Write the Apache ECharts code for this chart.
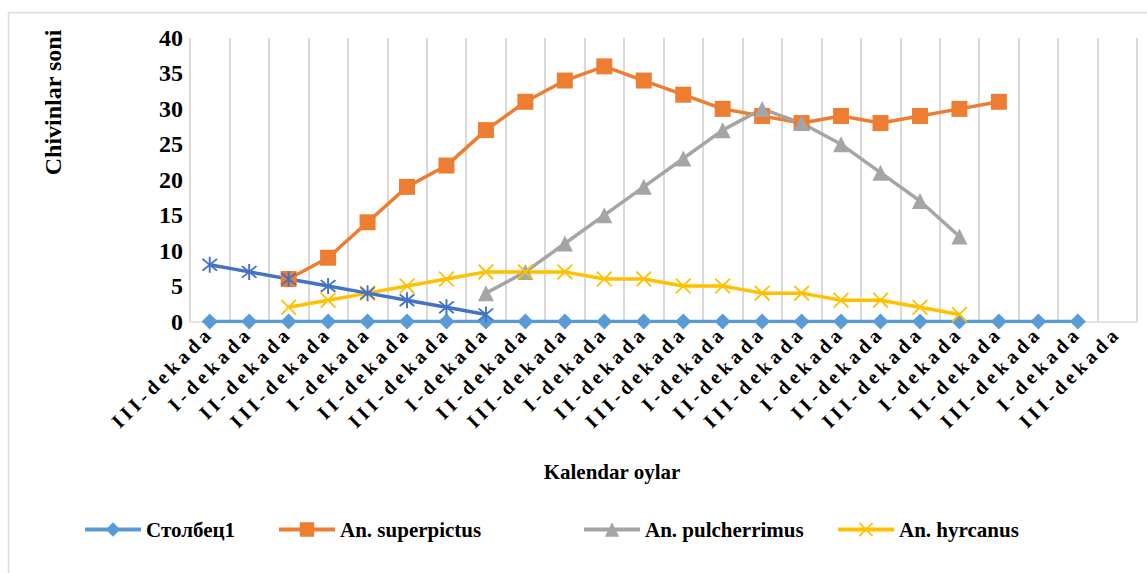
<!DOCTYPE html>
<html>
<head>
<meta charset="utf-8">
<script src="https://cdn.jsdelivr.net/npm/echarts@6/dist/echarts.min.js"></script>
<style>
html,body{margin:0;padding:0;background:#fff;}
#chart{width:1147px;height:573px;}
</style>
</head>
<body>
<div id="chart"></div>
<script>
var categories = ['III-dekada','I-dekada','II-dekada','III-dekada','I-dekada','II-dekada','III-dekada','I-dekada','II-dekada','III-dekada','I-dekada','II-dekada','III-dekada','I-dekada','II-dekada','III-dekada','I-dekada','II-dekada','III-dekada','I-dekada','II-dekada','III-dekada','I-dekada','III-dekada'];
var stolbets1 = [0,0,0,0,0,0,0,0,0,0,0,0,0,0,0,0,0,0,0,0,0,0,0,null];
var superpictus = [null,null,6,9,14,19,22,27,31,34,36,34,32,30,29,28,29,28,29,30,31,null,null,null];
var pulcherrimus = [null,null,null,null,null,null,null,4,7,11,15,19,23,27,30,28,25,21,17,12,null,null,null,null];
var hyrcanus = [null,null,2,3,4,5,6,7,7,7,6,6,5,5,4,4,3,3,2,1,null,null,null,null];
var unnamedSeries = [8,7,6,5,4,3,2,1,null,null,null,null,null,null,null,null,null,null,null,null,null,null,null,null];
var yTicks = {min:0, max:40, interval:5};

var FONT = 'Liberation Serif';
var X_PATH = 'path://M0.8,0 L5,4.2 L9.2,0 L10,0.8 L5.8,5 L10,9.2 L9.2,10 L5,5.8 L0.8,10 L0,9.2 L4.2,5 L0,0.8 Z';
var STAR_PATH = 'path://M0.9,0 L5,4.1 L9.1,0 L10,0.9 L5.9,5 L10,9.1 L9.1,10 L5,5.9 L0.9,10 L0,9.1 L4.1,5 L0,0.9 Z M4.4,-1.2 L5.6,-1.2 L5.6,11.2 L4.4,11.2 Z';

var chart = echarts.init(document.getElementById('chart'), null, {renderer:'svg'});

function lineSeries(name, data, color, symbol, size) {
  return {
    name: name, type: 'line', data: data,
    symbol: symbol, symbolSize: size,
    showAllSymbol: true,
    connectNulls: false,
    lineStyle: {color: color, width: 3.5},
    itemStyle: {color: color},
    emphasis: {disabled: true},
    animation: false
  };
}

function legendAt(left, name) {
  return {
    left: left, top: 514,
    data: [name],
    itemWidth: 56, itemHeight: 18,
    lineStyle: {width: 4},
    textStyle: {fontFamily: FONT, fontWeight: 'bold', fontSize: 21, color: '#000'},
    selectedMode: false
  };
}

chart.setOption({
  backgroundColor: '#fff',
  animation: false,
  grid: {left: 190, right: 10, top: 38, bottom: 251.5, containLabel: false},
  xAxis: {
    type: 'category',
    data: categories,
    boundaryGap: true,
    axisLine: {show: true, lineStyle: {color: '#d9d9d9', width: 1.5}},
    axisTick: {show: false},
    splitLine: {show: true, lineStyle: {color: '#d9d9d9', width: 2}},
    axisLabel: {
      interval: 0, rotate: 45, margin: 8,
      fontFamily: FONT, fontWeight: 'bold', fontSize: 20, color: '#000'
    }
  },
  yAxis: {
    type: 'value',
    min: yTicks.min, max: yTicks.max, interval: yTicks.interval,
    axisLine: {show: false},
    axisTick: {show: false},
    splitLine: {show: false},
    axisLabel: {margin: 7, fontFamily: FONT, fontWeight: 'bold', fontSize: 24, color: '#000'}
  },
  legend: [
    legendAt(78, 'Столбец1'),
    legendAt(272, 'An. superpictus'),
    legendAt(577, 'An. pulcherrimus'),
    legendAt(831, 'An. hyrcanus')
  ],
  graphic: [
    {type: 'rect', silent: true, z: -10, shape: {x: 8.5, y: 12.5, width: 1300, height: 700},
     style: {fill: 'none', stroke: '#d9d9d9', lineWidth: 1.5}},
    {type: 'text', silent: true, x: 53, y: 102.5, rotation: Math.PI/2,
     style: {text: 'Chivinlar soni', fontFamily: FONT, fontWeight: 'bold', fontSize: 24, fill: '#000',
             align: 'center', verticalAlign: 'middle'}},
    {type: 'text', silent: true, x: 612, y: 472,
     style: {text: 'Kalendar oylar', fontFamily: FONT, fontWeight: 'bold', fontSize: 21, fill: '#000',
             align: 'center', verticalAlign: 'middle'}}
  ],
  series: [
    lineSeries('Столбец1', stolbets1, '#5B9BD5', 'diamond', 16),
    lineSeries('An. superpictus', superpictus, '#ED7D31', 'rect', 16),
    lineSeries('An. pulcherrimus', pulcherrimus, '#A5A5A5', 'triangle', 16),
    lineSeries('An. hyrcanus', hyrcanus, '#FFC000', X_PATH, 16),
    lineSeries('Series5', unnamedSeries, '#4472C4', STAR_PATH, 16)
  ]
});

function spaceLabels() {
  var texts = document.querySelectorAll('#chart svg text');
  for (var i = 0; i < texts.length; i++) {
    if (/dekada$/.test(texts[i].textContent)) {
      texts[i].style.letterSpacing = '4.2px';
    }
  }
}
spaceLabels();
chart.on('finished', spaceLabels);
</script>
</body>
</html>
